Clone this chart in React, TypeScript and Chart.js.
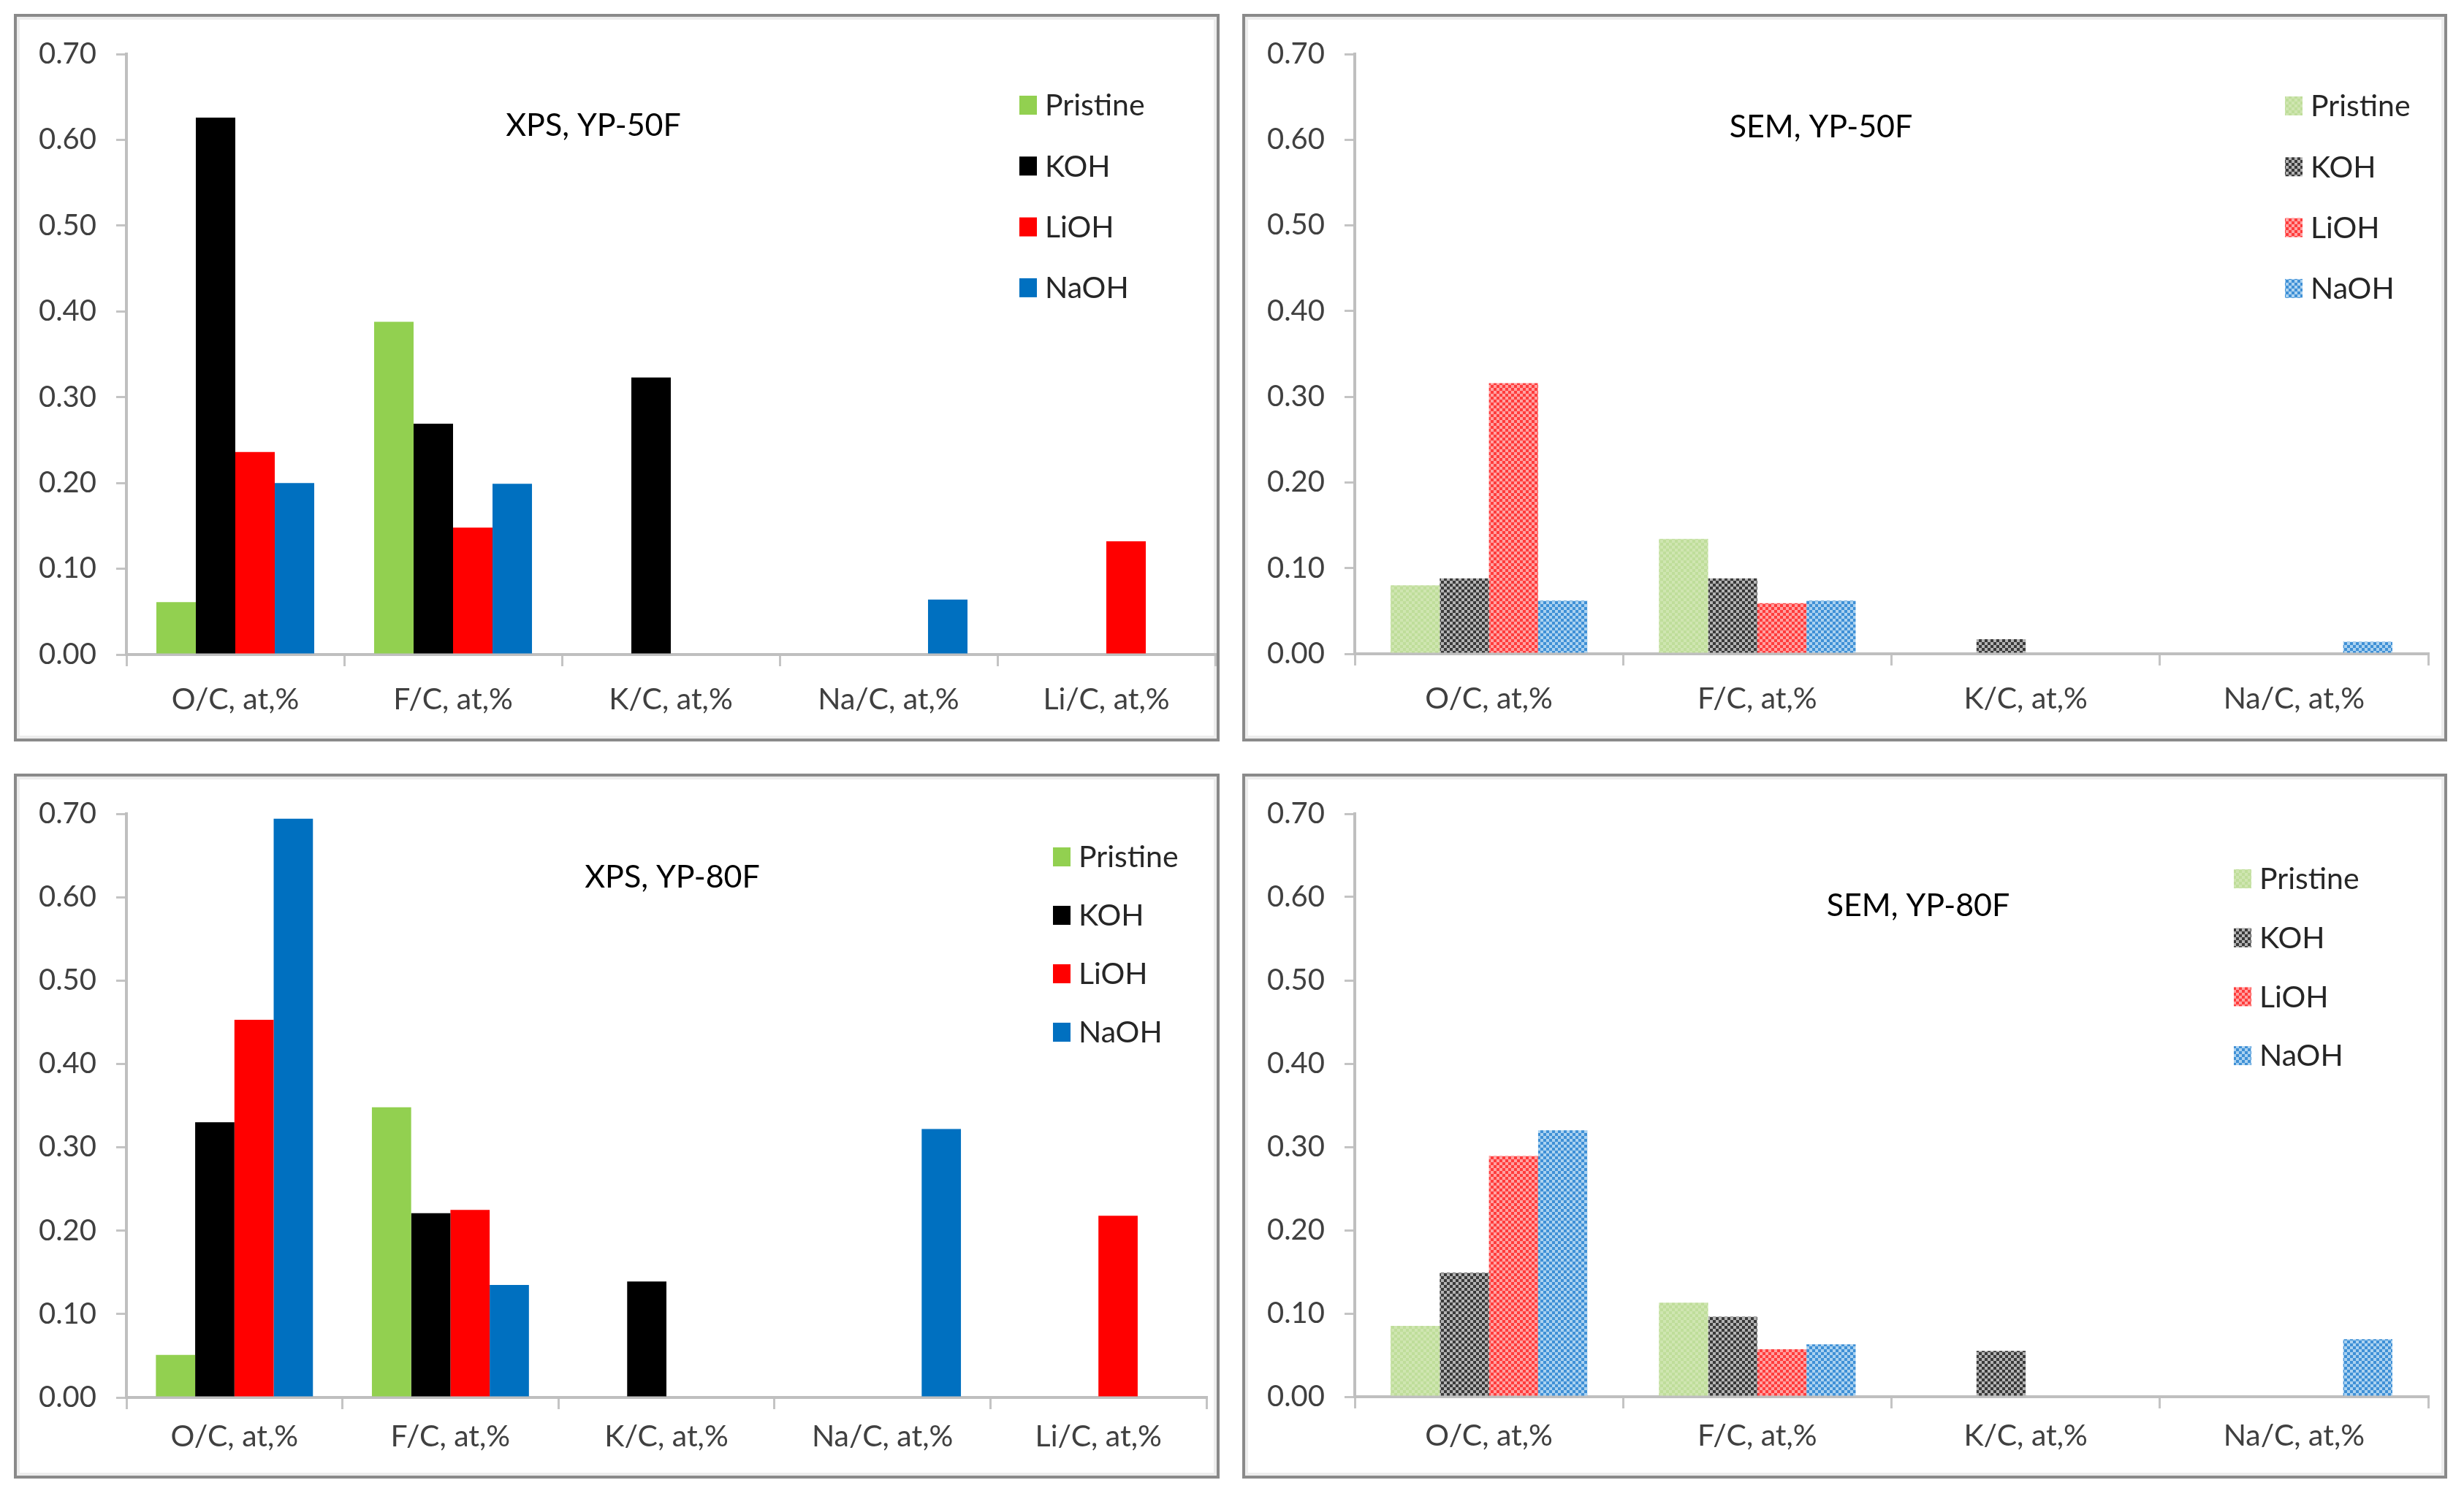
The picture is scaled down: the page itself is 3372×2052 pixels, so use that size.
import React, { useEffect, useRef } from "react";
import { Chart, registerables } from "chart.js";

Chart.register(...registerables);

const FONT = "Lato, 'Open Sans', sans-serif";

const seriesNames = ["Pristine", "KOH", "LiOH", "NaOH"];
const xpsCategories = ["O/C, at,%", "F/C, at,%", "K/C, at,%", "Na/C, at,%", "Li/C, at,%"];
const semCategories = ["O/C, at,%", "F/C, at,%", "K/C, at,%", "Na/C, at,%"];

// XPS, YP-50F
const xps50Pristine = [0.061, 0.388, 0, 0, 0];
const xps50KOH = [0.626, 0.269, 0.323, 0, 0];
const xps50LiOH = [0.236, 0.148, 0, 0, 0.132];
const xps50NaOH = [0.2, 0.199, 0, 0.064, 0];

// SEM, YP-50F
const sem50Pristine = [0.08, 0.134, 0, 0];
const sem50KOH = [0.088, 0.088, 0.017, 0];
const sem50LiOH = [0.316, 0.059, 0, 0];
const sem50NaOH = [0.062, 0.062, 0, 0.014];

// XPS, YP-80F
const xps80Pristine = [0.051, 0.348, 0, 0, 0];
const xps80KOH = [0.33, 0.221, 0.139, 0, 0];
const xps80LiOH = [0.453, 0.225, 0, 0, 0.218];
const xps80NaOH = [0.694, 0.135, 0, 0.322, 0];

// SEM, YP-80F
const sem80Pristine = [0.085, 0.113, 0, 0];
const sem80KOH = [0.149, 0.096, 0.055, 0];
const sem80LiOH = [0.289, 0.057, 0, 0];
const sem80NaOH = [0.32, 0.063, 0, 0.069];

const yMax = 0.7;
const yStep = 0.1;

const solidColors = ["#92d050", "#000000", "#ff0000", "#0070c0"];
// dark / light squares of the checker fill used in the SEM panels
const checkerColors: [string, string][] = [
  ["#bfdd9a", "#cfe6b1"],
  ["#3a3a3a", "#b4b4b4"],
  ["#ff3c3c", "#ffa2a2"],
  ["#3f90d6", "#abd2f0"],
];

function makeChecker(dark: string, light: string, cell = 4): CanvasPattern | string {
  const c = document.createElement("canvas");
  c.width = cell * 2;
  c.height = cell * 2;
  const g = c.getContext("2d");
  if (!g) return dark;
  g.fillStyle = light;
  g.fillRect(0, 0, cell * 2, cell * 2);
  g.fillStyle = dark;
  g.fillRect(0, 0, cell, cell);
  g.fillRect(cell, cell, cell, cell);
  return g.createPattern(c, "repeat") || dark;
}

const overlayPlugin = {
  id: "overlay",
  afterDraw(chart: any, _args: any, opts: any) {
    const ctx = chart.ctx;
    ctx.save();
    ctx.textBaseline = "middle";
    ctx.font = `43px ${FONT}`;
    ctx.fillStyle = "#000";
    ctx.textAlign = "center";
    ctx.fillText(opts.title, opts.titleX, opts.titleY);

    ctx.font = `41px ${FONT}`;
    ctx.textAlign = "left";
    chart.data.datasets.forEach((ds: any, i: number) => {
      const y = opts.legendY + i * opts.legendStep;
      ctx.fillStyle = ds.backgroundColor;
      ctx.fillRect(opts.legendX, y - 13, 24, 26);
      ctx.fillStyle = "#262626";
      ctx.fillText(ds.label, opts.legendX + 35, y + 1);
    });
    ctx.restore();
  },
};

type PanelProps = {
  frame: [number, number, number, number]; // outer box: left, top, right, bottom
  area: [number, number, number, number]; // plot area: left, top, right, bottom
  categories: string[];
  values: number[][];
  checkered: boolean;
  title: string;
  titlePos: [number, number];
  legendPos: [number, number, number]; // swatch left, first row centre, row step
  catPct: number;
  labelPad: number;
};

const Panel: React.FC<PanelProps> = (p) => {
  const ref = useRef<HTMLCanvasElement>(null);
  const [fl, ft, fr, fb] = p.frame;
  const cx = fl + 4;
  const cy = ft + 4;
  const cw = fr - fl - 8;
  const ch = fb - ft - 8;

  useEffect(() => {
    if (!ref.current) return;
    const [al, at, ar, ab] = p.area;
    const fills = seriesNames.map((_, i) =>
      p.checkered ? makeChecker(checkerColors[i][0], checkerColors[i][1]) : solidColors[i]
    );

    const chart = new Chart(ref.current, {
      type: "bar",
      data: {
        labels: p.categories,
        datasets: seriesNames.map((name, i) => ({
          label: name,
          data: p.values[i],
          backgroundColor: fills[i] as any,
          borderWidth: 0,
          categoryPercentage: p.catPct,
          barPercentage: 1,
        })),
      },
      options: {
        responsive: false,
        animation: false,
        devicePixelRatio: 1,
        layout: {
          padding: { left: 0, top: at - cy, right: cw - (ar - cx), bottom: 0 },
        },
        plugins: {
          legend: { display: false },
          tooltip: { enabled: false },
          overlay: {
            title: p.title,
            titleX: p.titlePos[0] - cx,
            titleY: p.titlePos[1] - cy,
            legendX: p.legendPos[0] - cx,
            legendY: p.legendPos[1] - cy,
            legendStep: p.legendPos[2],
          },
        } as any,
        scales: {
          x: {
            afterFit: (s: any) => {
              s.height = ch - (ab - cy);
            },
            grid: {
              drawOnChartArea: false,
              offset: true,
              tickLength: 16,
              color: "#c4c4c4",
              lineWidth: 3,
            },
            border: { color: "#bfbfbf", width: 4 },
            ticks: {
              color: "#404040",
              font: { family: FONT, size: 41 },
              padding: p.labelPad,
              maxRotation: 0,
            },
          },
          y: {
            min: 0,
            max: yMax,
            afterFit: (s: any) => {
              s.width = al - cx;
            },
            grid: {
              drawOnChartArea: false,
              tickLength: 14,
              color: "#c4c4c4",
              lineWidth: 3,
            },
            border: { color: "#bfbfbf", width: 4 },
            ticks: {
              stepSize: yStep,
              color: "#404040",
              font: { family: FONT, size: 40 },
              padding: 27,
              callback: (v: any) => Number(v).toFixed(2),
            },
          },
        },
      },
      plugins: [overlayPlugin],
    });

    return () => {
      chart.destroy();
    };
  }, []);

  return (
    <div
      style={{
        position: "absolute",
        left: fl,
        top: ft,
        width: fr - fl,
        height: fb - ft,
        boxSizing: "border-box",
        border: "4px solid #8a8a8a",
        boxShadow: "inset 0 0 0 4px #ededed",
        background: "#fff",
      }}
    >
      <canvas
        ref={ref}
        width={cw}
        height={ch}
        style={{ position: "absolute", left: 0, top: 0, width: cw, height: ch }}
      />
    </div>
  );
};

const App: React.FC = () => {
  return (
    <div style={{ position: "absolute", left: 0, top: 0, width: 3372, height: 2052, background: "#fff" }}>
      <Panel
        frame={[19, 19, 1669, 1015]}
        area={[173, 71, 1663, 896]}
        categories={xpsCategories}
        values={[xps50Pristine, xps50KOH, xps50LiOH, xps50NaOH]}
        checkered={false}
        title="XPS, YP-50F"
        titlePos={[812, 172]}
        legendPos={[1395, 144, 83.3]}
        catPct={0.725}
        labelPad={21}
      />
      <Panel
        frame={[1700, 19, 3349, 1015]}
        area={[1854, 71, 3323, 895]}
        categories={semCategories}
        values={[sem50Pristine, sem50KOH, sem50LiOH, sem50NaOH]}
        checkered={true}
        title="SEM, YP-50F"
        titlePos={[2492, 174]}
        legendPos={[3127, 145, 83.3]}
        catPct={0.733}
        labelPad={21}
      />
      <Panel
        frame={[19, 1059, 1669, 2024]}
        area={[173, 1110, 1651, 1913]}
        categories={xpsCategories}
        values={[xps80Pristine, xps80KOH, xps80LiOH, xps80NaOH]}
        checkered={false}
        title="XPS, YP-80F"
        titlePos={[920, 1201]}
        legendPos={[1441, 1173, 80]}
        catPct={0.727}
        labelPad={13}
      />
      <Panel
        frame={[1700, 1059, 3349, 2024]}
        area={[1854, 1110, 3323, 1912]}
        categories={semCategories}
        values={[sem80Pristine, sem80KOH, sem80LiOH, sem80NaOH]}
        checkered={true}
        title="SEM, YP-80F"
        titlePos={[2625, 1240]}
        legendPos={[3057, 1203, 80.7]}
        catPct={0.733}
        labelPad={13}
      />
    </div>
  );
};

export default App;
